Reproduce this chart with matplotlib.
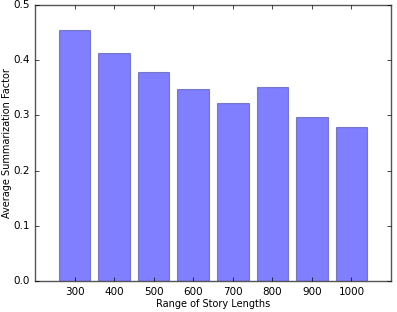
import matplotlib
matplotlib.use("Agg")
import matplotlib.pyplot as plt
import numpy as np

plt.style.use("classic")

categories = ["300", "400", "500", "600", "700", "800", "900", "1000"]
values = [0.455, 0.413, 0.379, 0.348, 0.322, 0.351, 0.298, 0.279]

fig = plt.figure(figsize=(3.97, 3.12), dpi=100)
fig.patch.set_facecolor("white")
ax = fig.add_axes([35/397, 1 - 281/312, 356/397, 276/312])
x = np.arange(len(categories))
ax.bar(x, values, width=0.8, align="center", color="b", alpha=0.5, edgecolor="#303090", linewidth=0.8)
ax.set_xlim(-1, len(categories))
ax.set_ylim(0, 0.5)
ax.set_xticks(x)
ax.set_xticklabels(categories)
ax.set_yticks([0.0, 0.1, 0.2, 0.3, 0.4, 0.5])
ax.tick_params(labelsize=7.5, length=3)
for s in ax.spines.values():
    s.set_color("#555555")
ax.set_xlabel("Range of Story Lengths", fontsize=7, labelpad=2)
ax.set_ylabel("Average Summarization Factor", fontsize=7, labelpad=1)
fig.savefig("out.png", dpi=100, facecolor="white")
